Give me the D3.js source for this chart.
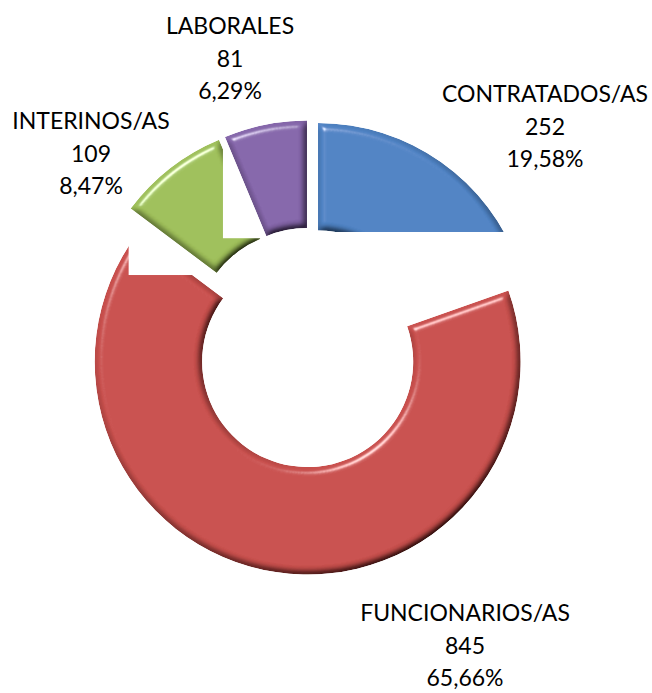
<!DOCTYPE html>
<html>
<head>
<meta charset="utf-8">
<script src="https://cdn.jsdelivr.net/npm/d3@7"></script>
<style>
  body { margin: 0; background: #fff; }
  svg text { font-family: Lato, "Open Sans", sans-serif; fill: #000; }
</style>
</head>
<body>
<svg id="chart" width="652" height="693"></svg>
<script>
// data
const categories = ["CONTRATADOS/AS", "FUNCIONARIOS/AS", "INTERINOS/AS", "LABORALES"];
const values = [252, 845, 109, 81];
const colors = ["#4f83c4", "#c9504d", "#9fc05a", "#8566aa"];

// label anchors (centre x, first baseline y), placed by hand like the original
const labelPos = [[545, 102], [465, 621], [91, 129], [230, 34]];

let svg = d3.select("#chart"),
    cx = 309.8,
    cy = 347.5,
    outerR = 213,
    innerR = 105.5,
    explode = 14.2,
    lineH = 32.7;

let total = d3.sum(values);
let pct = function (v) { return d3.format(".2f")(v / total * 100).replace(".", ",") + "%"; };

// bevel look
let defs = svg.append("defs");
let f = defs.append("filter").attr("id", "bevel")
    .attr("x", "-10%").attr("y", "-10%").attr("width", "120%").attr("height", "120%");
f.append("feGaussianBlur").attr("in", "SourceAlpha").attr("stdDeviation", 3.5).attr("result", "blur");
f.append("feDiffuseLighting").attr("in", "blur").attr("surfaceScale", 7)
    .attr("diffuseConstant", 1.16).attr("lighting-color", "#fff").attr("result", "diff")
    .append("feDistantLight").attr("azimuth", 235).attr("elevation", 60);
f.append("feComposite").attr("in", "diff").attr("in2", "SourceGraphic")
    .attr("operator", "arithmetic").attr("k1", 1).attr("result", "lit");
f.append("feSpecularLighting").attr("in", "blur").attr("surfaceScale", 6)
    .attr("specularConstant", 0.8).attr("specularExponent", 45)
    .attr("lighting-color", "#fff").attr("result", "spec")
    .append("feDistantLight").attr("azimuth", 235).attr("elevation", 40);
f.append("feComposite").attr("in", "spec").attr("in2", "SourceAlpha")
    .attr("operator", "in").attr("result", "specIn");
f.append("feComposite").attr("in", "lit").attr("in2", "specIn")
    .attr("operator", "arithmetic").attr("k2", 1).attr("k3", 0.8).attr("result", "all");
f.append("feComposite").attr("in", "all").attr("in2", "SourceAlpha").attr("operator", "in");

// the blue piece is cut off at the bottom in the original
defs.append("clipPath").attr("id", "cutBlue")
    .append("rect").attr("x", 0).attr("y", 0).attr("width", 652).attr("height", cy - 115.5);

let pie = d3.pie().sort(null).value(function (d) { return d; });
let arc = d3.arc().innerRadius(innerR).outerRadius(outerR);
let arcs = pie(values);

// drawing order of the original: red ring, green, purple, blue
let order = [1, 2, 3, 0];
order.forEach(function (i) {
    let a = arcs[i];
    let mid = (a.startAngle + a.endAngle) / 2;
    let ox = cx + Math.sin(mid) * explode,
        oy = cy - Math.cos(mid) * explode;

    let outer = svg.append("g");
    if (i === 0) outer.attr("clip-path", "url(#cutBlue)");

    // white box behind the green and purple pieces
    let bg = outer.append("rect").attr("fill", "#fff");
    let g = outer.append("g").attr("transform", "translate(" + ox + "," + oy + ")");
    let p = g.append("path")
        .attr("d", arc(a))
        .attr("fill", colors[i])
        .attr("filter", "url(#bevel)");

    if (i === 2 || i === 3) {
        let b = p.node().getBBox();
        bg.attr("x", ox + b.x - 2).attr("y", oy + b.y - 2)
          .attr("width", b.width + 4).attr("height", b.height + 4);
    } else {
        bg.remove();
    }
});

// labels
categories.forEach(function (c, i) {
    let t = svg.append("text")
        .attr("text-anchor", "middle")
        .attr("font-size", 23)
        .attr("x", labelPos[i][0])
        .attr("y", labelPos[i][1]);
    [c, values[i], pct(values[i])].forEach(function (s, k) {
        t.append("tspan").attr("x", labelPos[i][0]).attr("dy", k === 0 ? 0 : lineH).text(s);
    });
});
</script>
</body>
</html>
